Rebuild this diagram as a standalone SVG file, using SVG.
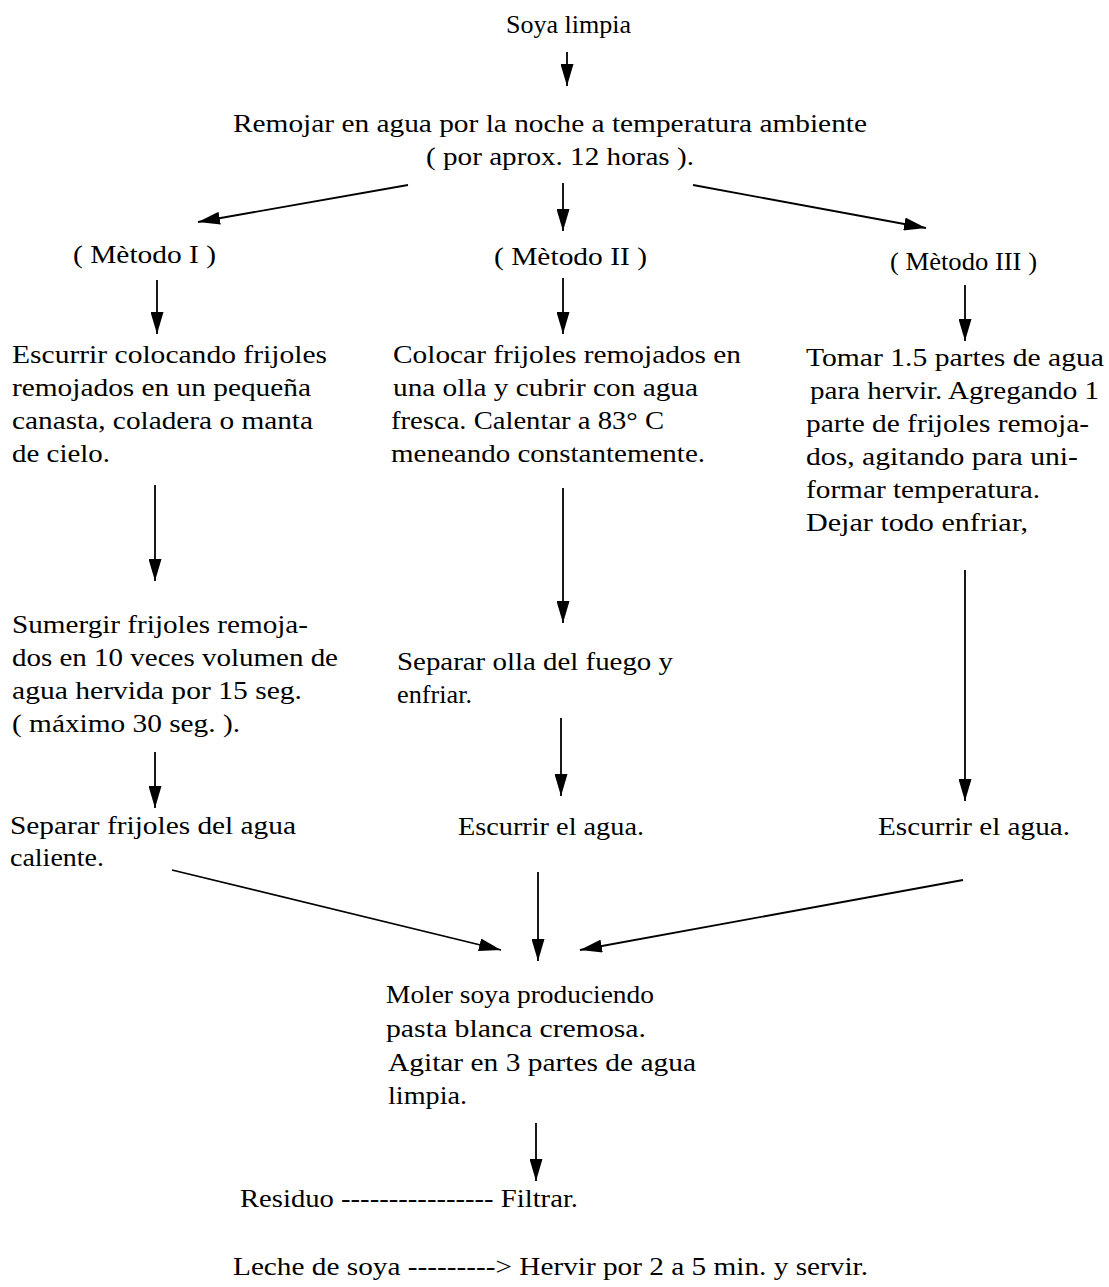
<svg xmlns="http://www.w3.org/2000/svg" width="1109" height="1287" viewBox="0 0 1109 1287">
<defs>
<style>
text{font-family:"Liberation Serif","Times New Roman",serif;font-size:26px;fill:#000}
.e path{stroke:#000;stroke-width:1.8;fill:none}
</style>
<marker id="ah" viewBox="0 0 22 13" refX="22" refY="6.5" markerWidth="22" markerHeight="13" markerUnits="userSpaceOnUse" orient="auto">
<path d="M0,0 L22,6.5 L0,13 Z" fill="#000"/>
</marker>
</defs>
<rect width="1109" height="1287" fill="#fff"/>
<g id="n-soya"><text x="506" y="33" textLength="125" lengthAdjust="spacingAndGlyphs">Soya limpia</text></g>
<g id="n-remojar"><text x="233" y="132" textLength="634" lengthAdjust="spacingAndGlyphs">Remojar en agua por la noche a temperatura ambiente</text><text x="426" y="165" textLength="268" lengthAdjust="spacingAndGlyphs">( por aprox. 12 horas ).</text></g>
<g id="n-m1"><text x="73" y="263" textLength="143" lengthAdjust="spacingAndGlyphs">( Mètodo I )</text></g>
<g id="n-m2"><text x="494" y="265" textLength="153" lengthAdjust="spacingAndGlyphs">( Mètodo II )</text></g>
<g id="n-m3"><text x="890" y="270" textLength="147" lengthAdjust="spacingAndGlyphs">( Mètodo III )</text></g>
<g id="n-escurrir1"><text x="12" y="363" textLength="315" lengthAdjust="spacingAndGlyphs">Escurrir colocando frijoles</text><text x="12" y="396" textLength="299" lengthAdjust="spacingAndGlyphs">remojados en un pequeña</text><text x="12" y="429" textLength="301" lengthAdjust="spacingAndGlyphs">canasta, coladera o manta</text><text x="12" y="462" textLength="98" lengthAdjust="spacingAndGlyphs">de cielo.</text></g>
<g id="n-colocar"><text x="393" y="363" textLength="348" lengthAdjust="spacingAndGlyphs">Colocar frijoles remojados en</text><text x="393" y="396" textLength="305" lengthAdjust="spacingAndGlyphs">una olla y cubrir con agua</text><text x="391" y="429" textLength="273" lengthAdjust="spacingAndGlyphs">fresca. Calentar a 83° C</text><text x="391" y="462" textLength="314" lengthAdjust="spacingAndGlyphs">meneando constantemente.</text></g>
<g id="n-tomar"><text x="806" y="366" textLength="298" lengthAdjust="spacingAndGlyphs">Tomar 1.5 partes de agua</text><text x="810" y="399" textLength="289" lengthAdjust="spacingAndGlyphs">para hervir. Agregando 1</text><text x="806" y="432" textLength="283" lengthAdjust="spacingAndGlyphs">parte de frijoles remoja-</text><text x="806" y="465" textLength="272" lengthAdjust="spacingAndGlyphs">dos, agitando para uni-</text><text x="806" y="498" textLength="234" lengthAdjust="spacingAndGlyphs">formar temperatura.</text><text x="806" y="531" textLength="222" lengthAdjust="spacingAndGlyphs">Dejar todo enfriar,</text></g>
<g id="n-sumergir"><text x="12" y="633" textLength="296" lengthAdjust="spacingAndGlyphs">Sumergir frijoles remoja-</text><text x="12" y="666" textLength="326" lengthAdjust="spacingAndGlyphs">dos en 10 veces volumen de</text><text x="12" y="699" textLength="290" lengthAdjust="spacingAndGlyphs">agua hervida por 15 seg.</text><text x="12" y="732" textLength="228" lengthAdjust="spacingAndGlyphs">( máximo 30 seg. ).</text></g>
<g id="n-separar-olla"><text x="397" y="670" textLength="276" lengthAdjust="spacingAndGlyphs">Separar olla del fuego y</text><text x="397" y="703" textLength="75" lengthAdjust="spacingAndGlyphs">enfriar.</text></g>
<g id="n-separar-frijoles"><text x="10" y="834" textLength="286" lengthAdjust="spacingAndGlyphs">Separar frijoles del agua</text><text x="10" y="866" textLength="94" lengthAdjust="spacingAndGlyphs">caliente.</text></g>
<g id="n-escurrir2"><text x="458" y="835" textLength="186" lengthAdjust="spacingAndGlyphs">Escurrir el agua.</text></g>
<g id="n-escurrir3"><text x="878" y="835" textLength="192" lengthAdjust="spacingAndGlyphs">Escurrir el agua.</text></g>
<g id="n-moler"><text x="386" y="1003" textLength="268" lengthAdjust="spacingAndGlyphs">Moler soya produciendo</text><text x="386" y="1037" textLength="260" lengthAdjust="spacingAndGlyphs">pasta blanca cremosa.</text><text x="388" y="1071" textLength="308" lengthAdjust="spacingAndGlyphs">Agitar en 3 partes de agua</text><text x="388" y="1104" textLength="79" lengthAdjust="spacingAndGlyphs">limpia.</text></g>
<g id="n-filtrar"><text x="240" y="1207" textLength="338" lengthAdjust="spacingAndGlyphs">Residuo ---------------- Filtrar.</text></g>
<g id="n-hervir"><text x="233" y="1275" textLength="635" lengthAdjust="spacingAndGlyphs">Leche de soya ---------&gt; Hervir por 2 a 5 min. y servir.</text></g>
<g id="edges" class="e">
<path d="M567,52 L567,86" marker-end="url(#ah)"/>
<path d="M408,185 L198,222" marker-end="url(#ah)"/>
<path d="M563,183 L563,231" marker-end="url(#ah)"/>
<path d="M693,185 L926,228" marker-end="url(#ah)"/>
<path d="M157,280 L157,334" marker-end="url(#ah)"/>
<path d="M563,278 L563,334" marker-end="url(#ah)"/>
<path d="M965,285 L965,341" marker-end="url(#ah)"/>
<path d="M155,485 L155,581" marker-end="url(#ah)"/>
<path d="M563,488 L563,623" marker-end="url(#ah)"/>
<path d="M965,570 L965,801" marker-end="url(#ah)"/>
<path d="M155,752 L155,808" marker-end="url(#ah)"/>
<path d="M561,718 L561,796" marker-end="url(#ah)"/>
<path d="M172,870 L501,950" marker-end="url(#ah)"/>
<path d="M538,872 L538,961" marker-end="url(#ah)"/>
<path d="M963,880 L580,950" marker-end="url(#ah)"/>
<path d="M536,1123 L536,1181" marker-end="url(#ah)"/>
</g>
</svg>
